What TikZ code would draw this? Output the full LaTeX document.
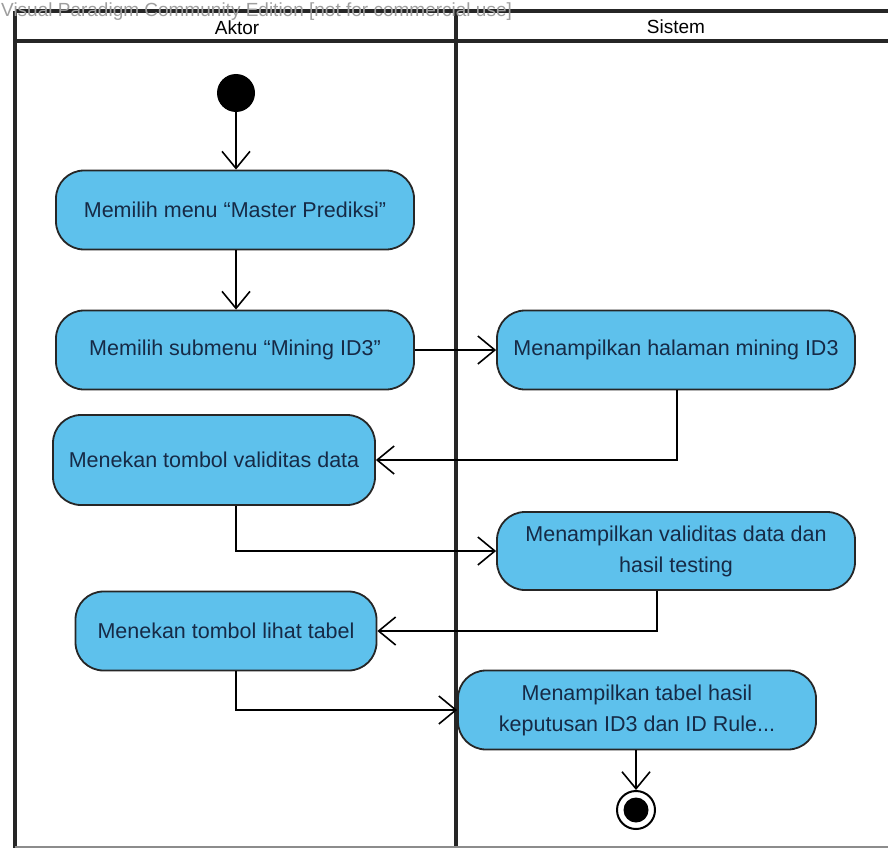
\documentclass[tikz,border=0pt]{standalone}
\usepackage{fontspec}
\setmainfont{Liberation Sans}
\usetikzlibrary{arrows.meta,positioning}

\definecolor{actfill}{RGB}{94,193,236}
\definecolor{acttext}{RGB}{22,42,70}

\tikzset{
  action/.style={draw=black!85, line width=1.8pt, fill=actfill, rounded corners=28pt,
    text=acttext, font=\fontsize{21.5}{31}\selectfont, align=center,
    minimum width=358pt, minimum height=79pt, inner sep=2pt},
  flow/.style={line width=1.6pt, -{Straight Barb[length=17pt,width=28pt,line width=1.6pt]}},
  lane/.style={line width=4.5pt, black!85}
}

\begin{document}
\begin{tikzpicture}[x=1pt, y=-1pt]
  \useasboundingbox (0,0) rectangle (888,848);

  % Swimlanes
  \draw[lane, line width=4pt] (15,11) -- (888,11);
  \draw[lane] (15,41) -- (888,41);
  \draw[lane] (15,11) -- (15,848);
  \draw[lane] (456,11) -- (456,848);
  \draw[black!45, line width=2pt] (15,847) -- (888,847);
  \node[font=\fontsize{19}{22}\selectfont] (aktor) at (237,28) {Aktor};
  \node[font=\fontsize{19}{22}\selectfont] (sistem) at (676,27) {Sistem};
  \node[anchor=west, text=black!38, font=\fontsize{19}{21}\selectfont, inner sep=0pt] (wm) at (1,12)
    {Visual Paradigm Community Edition [not for commercial use]};

  % Start and end
  \node[circle, fill=black, minimum size=38pt, inner sep=0pt] (start) at (236,93) {};
  \node[circle, draw=black, line width=2pt, fill=white, minimum size=38pt, inner sep=0pt] (finish) at (636,810) {};
  \node[circle, fill=black, minimum size=25pt, inner sep=0pt] (finishdot) at (finish) {};

  % Actions
  \node[action] (menu) at (235,210) {Memilih menu ``Master Prediksi''};
  \node[action] (submenu) at (235,350) {Memilih submenu ``Mining ID3''};
  \node[action] (halaman) at (676,350) {Menampilkan halaman mining ID3};
  \node[action, minimum width=322pt, minimum height=90pt] (validasi) at (214,460) {Menekan tombol validitas data};
  \node[action, minimum height=78pt] (hasil) at (676,551) {Menampilkan validitas data dan\\hasil testing};
  \node[action, minimum width=301pt] (lihat) at (226,631) {Menekan tombol lihat tabel};
  \node[action] (tabel) at (637,710) {Menampilkan tabel hasil\\keputusan ID3 dan ID Rule...};

  % Flows
  \draw[flow] (start) -- (start |- menu.north);
  \draw[flow] (menu.south -| start) -- (submenu.north -| start);
  \draw[flow] (submenu) -- (halaman);
  \draw[flow] (halaman.south -| 677,0) |- (validasi.east);
  \draw[flow] (validasi.south -| start) |- (hasil.west);
  \draw[flow] (hasil.south -| 657,0) |- (lihat.east);
  \draw[flow] (lihat.south -| start) |- (tabel.west);
  \draw[flow] (tabel.south -| finish) -- (finish.north);
\end{tikzpicture}
\end{document}
